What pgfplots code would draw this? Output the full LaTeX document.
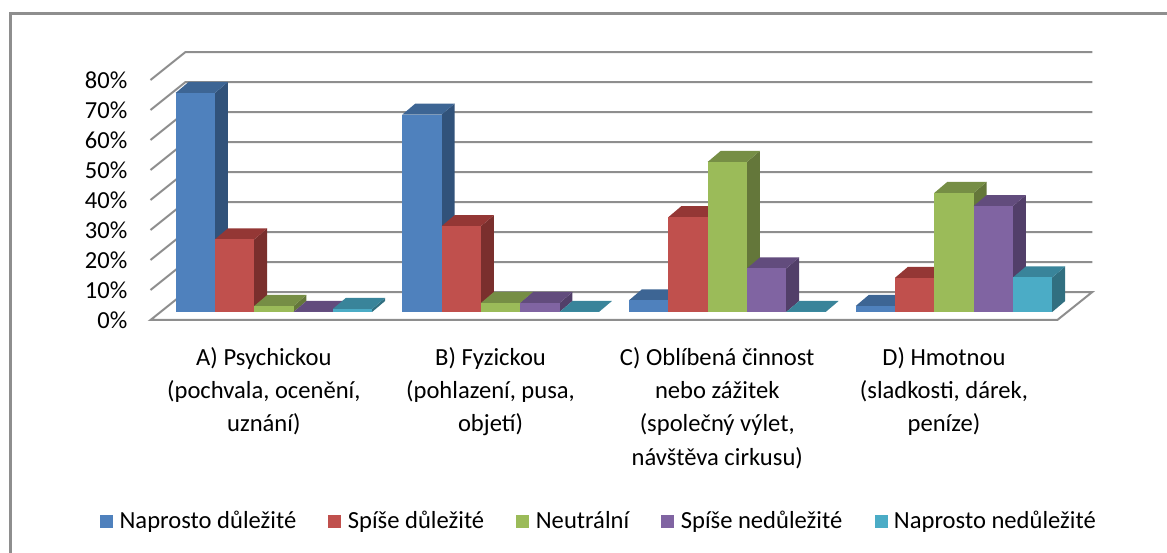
\documentclass[border=0pt]{standalone}
\usepackage{pgfplots}
\pgfplotsset{compat=1.18}
\usepackage{fontspec}
\setmainfont{Carlito}
\definecolor{bF}{HTML}{4F81BD}\definecolor{bT}{HTML}{3D6594}\definecolor{bS}{HTML}{31527A}
\definecolor{rF}{HTML}{C0504D}\definecolor{rT}{HTML}{943735}\definecolor{rS}{HTML}{7A2F2D}
\definecolor{gF}{HTML}{9BBB59}\definecolor{gT}{HTML}{768E45}\definecolor{gS}{HTML}{64773A}
\definecolor{pF}{HTML}{8064A2}\definecolor{pT}{HTML}{624C7D}\definecolor{pS}{HTML}{523F69}
\definecolor{tF}{HTML}{4BACC6}\definecolor{tT}{HTML}{39849A}\definecolor{tS}{HTML}{316F80}
\definecolor{gridc}{HTML}{8E8E8E}
% one 3-D column: group, slot, value, colour prefix
\newcommand{\column}[4]{%
  \pgfmathsetmacro{\xa}{#1+(#2-2.5)*0.17336}%
  \pgfmathsetmacro{\xb}{\xa+0.17336}%
  \pgfmathsetmacro{\xc}{\xb+0.0573}%
  \pgfmathsetmacro{\xd}{\xa+0.0573}%
  \pgfmathsetmacro{\yt}{#3+3.67}%
  \pgfmathsetmacro{\yd}{3.67}%
  \addplot[fill=#4S,draw=none,forget plot] coordinates {(\xb,0)(\xc,\yd)(\xc,\yt)(\xb,#3)} --cycle;
  \addplot[fill=#4T,draw=none,forget plot] coordinates {(\xa,#3)(\xb,#3)(\xc,\yt)(\xd,\yt)} --cycle;
  \addplot[fill=#4F,draw=none,forget plot] coordinates {(\xa,0)(\xb,0)(\xb,#3)(\xa,#3)} --cycle;
}
\newcommand{\series}[6]{%
  \column{0}{#1}{#3}{#2}\column{1}{#1}{#4}{#2}\column{2}{#1}{#5}{#2}\column{3}{#1}{#6}{#2}%
}
\newcommand{\gline}[1]{%
  \pgfmathsetmacro{\yb}{#1+9.33}%
  \addplot[gridc,line width=2pt,forget plot] coordinates {(-0.5,#1)(-0.3456,\yb)(3.6544,\yb)};
}
\begin{document}
\begin{tikzpicture}[x=1pt,y=1pt]
\path[use as bounding box] (0,0) rectangle (1167,553);
\draw[gridc,line width=2.2pt] (10.5,0) -- (10.5,539.5) -- (1167,539.5);
\begin{axis}[
  at={(150.5pt,233pt)},anchor=south west,
  scale only axis,width=906.8pt,height=240pt,
  xmin=-0.5,xmax=3.5,ymin=0,ymax=80,clip=false,
  axis line style={draw=none},tick style={draw=none},
  ytick={0,10,20,30,40,50,60,70,80},
  yticklabels={0\%,10\%,20\%,30\%,40\%,50\%,60\%,70\%,80\%},
  yticklabel style={font=\fontsize{24.5}{28}\selectfont,inner sep=0pt},
  ylabel={},
  yticklabel shift=23pt,
  xtick={0,1,2,3},
  xticklabels={{A) Psychickou\\(pochvala, ocenění,\\uznání)},
    {B) Fyzickou\\(pohlazení, pusa,\\objetí)},
    {C) Oblíbená činnost\\nebo zážitek\\(společný výlet,\\návštěva cirkusu)},
    {D) Hmotnou\\(sladkosti, dárek,\\peníze)}},
  xticklabel style={font=\fontsize{24.6}{33.3}\selectfont,align=center,inner sep=0pt,anchor=north},
  xticklabel shift=27pt,
  legend style={at={(-0.0557,-0.8375)},anchor=west,draw=none,fill=none,
    legend columns=5,font=\fontsize{24.6}{28}\selectfont,inner sep=0pt,
    /tikz/every odd column/.style={column sep=5pt},
    /tikz/every even column/.style={column sep=30.2pt}},
  legend cell align=left,
  legend image code/.code={\fill[#1] (0pt,-6pt) rectangle (12pt,6pt);},
]
\addlegendimage{bF}\addlegendentry{Naprosto důležité}
\addlegendimage{rF}\addlegendentry{Spíše důležité}
\addlegendimage{gF}\addlegendentry{Neutrální}
\addlegendimage{pF}\addlegendentry{Spíše nedůležité}
\addlegendimage{tF}\addlegendentry{Naprosto nedůležité}
\gline{10}\gline{20}\gline{30}\gline{40}\gline{50}\gline{60}\gline{70}\gline{80}
\addplot[gridc,line width=2pt,forget plot] coordinates {(-0.5,0)(-0.3456,9.33)(3.6544,9.33)(3.5,0)(-0.5,0)} --cycle;
\end{axis}
\begin{axis}[
  at={(160.5pt,241pt)},anchor=south west,
  scale only axis,width=906.8pt,height=240pt,
  xmin=-0.5,xmax=3.5,ymin=0,ymax=80,clip=false,hide axis,
]
\series{0}{b}{73.0}{65.8}{3.9}{2.0}
\series{1}{r}{24.2}{28.6}{31.6}{11.4}
\series{2}{g}{2.0}{3.0}{50.0}{39.7}
\series{3}{p}{0}{3.0}{14.5}{35.3}
\series{4}{t}{1.0}{0}{0}{11.5}
\end{axis}
\end{tikzpicture}
\end{document}
